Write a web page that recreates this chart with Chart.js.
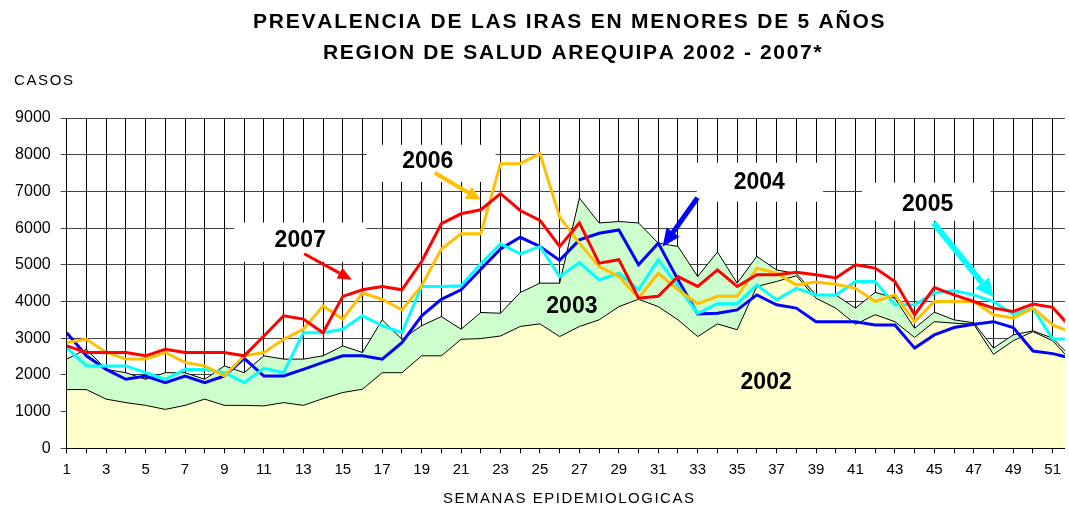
<!DOCTYPE html>
<html>
<head>
<meta charset="utf-8">
<script src="https://cdn.jsdelivr.net/npm/chart.js@4.4.1/dist/chart.umd.min.js"></script>
<style>
  html, body { margin: 0; padding: 0; background: #fff; overflow: hidden; }
  #wrap { width: 1069px; height: 508px; }
</style>
</head>
<body>
<div id="wrap"><canvas id="c" width="1069" height="508"></canvas></div>
<script>
// Epidemiological weeks
const weeks = [1,2,3,4,5,6,7,8,9,10,11,12,13,14,15,16,17,18,19,20,21,22,23,24,25,26,
               27,28,29,30,31,32,33,34,35,36,37,38,39,40,41,42,43,44,45,46,47,48,49,50,51,52];

// Weekly cases (IRA, children under 5) per year
const casos2002 = [1600,1600,1340,1245,1170,1060,1170,1340,1170,1170,
                   1155,1245,1170,1355,1520,1610,2060,2060,2520,2520,
                   2970,2990,3060,3320,3390,3045,3320,3500,3860,4060,
                   3860,3500,3045,3390,3230,4410,4545,4700,4090,3820,
                   3380,3640,3450,3020,3450,3410,3380,2560,2930,3180,
                   2930,2350];
const casos2003 = [2430,2700,2150,2060,1880,2060,2060,1880,2245,2060,
                   2520,2430,2430,2520,2790,2610,3500,2970,3340,3590,
                   3245,3700,3680,4245,4500,4500,6820,6140,6180,6140,
                   5590,5500,4680,5350,4500,5230,4860,4760,4180,4180,
                   3820,4250,4090,3270,3710,3500,3420,2730,3090,3200,
                   3000,2450];
const casos2004 = [3150,2520,2150,1880,1970,1790,1970,1790,1970,2450,
                   1970,1970,2150,2340,2520,2520,2430,2880,3610,4060,
                   4320,4880,5430,5750,5500,5120,5680,5860,5950,5000,
                   5590,4590,3660,3680,3770,4180,3910,3820,3450,3450,
                   3450,3360,3360,2730,3090,3290,3380,3450,3290,2650,
                   2580,2450];
const casos2005 = [2745,2245,2245,2245,2060,1880,2150,2150,2060,1790,
                   2180,2060,3150,3150,3245,3610,3340,3150,4410,4410,
                   4430,5030,5570,5300,5500,4680,5060,4590,4770,4320,
                   5140,4410,3680,3940,3940,4450,4045,4360,4180,4180,
                   4545,4545,3910,3910,4230,4290,4180,4000,3650,3820,
                   2980,2980];
const casos2006 = [2880,2970,2610,2430,2430,2610,2340,2245,1970,2520,
                   2610,2970,3245,3880,3520,4230,4060,3770,4430,5430,
                   5845,5845,7755,7755,8030,6300,5590,4950,4680,4090,
                   4770,4320,3940,4140,4140,4910,4770,4450,4530,4470,
                   4360,4000,4180,3450,4000,4000,4000,3640,3550,3820,
                   3360,3150];
const casos2007 = [2790,2610,2610,2610,2520,2700,2610,2610,2610,2520,
                   3060,3610,3520,3150,4140,4320,4410,4320,5090,6120,
                   6390,6500,6940,6480,6210,5500,6140,5045,5140,4090,
                   4140,4680,4410,4860,4410,4730,4730,4800,4730,4640,
                   5000,4910,4545,3640,4380,4180,4000,3820,3730,3930,
                   3840,3250];

const FONT = "'Liberation Sans', Arial, sans-serif";

const pts = (vals) => weeks.map((w, i) => ({ x: w, y: vals[i] }));

// Year callouts: white label box, text position and arrow (week, cases)
const callouts = [
  { text: '2007', color: '#FF0000', width: 3, head: [14, 6],
    box: [9.5, 6150, 16.2, 5080], at: [12.84, 5657], from: [13.04, 5300], to: [15.46, 4590] },
  { text: '2006', color: '#FFC000', width: 4, head: [14, 7],
    box: [16.2, 8270, 22.75, 7260], at: [19.31, 7807], from: [19.66, 7508], to: [21.98, 6771] },
  { text: '2004', color: '#0000FF', width: 5, head: [18, 8],
    box: [32.95, 7780, 39.36, 6716], at: [36.12, 7235], from: [32.99, 6825], to: [31.22, 5489] },
  { text: '2005', color: '#00FFFF', width: 6, head: [18, 9],
    box: [41.33, 7235, 47.85, 6199], at: [44.66, 6635], from: [44.96, 6144], to: [48.0, 4126] }
];
const areaLabels = [
  { text: '2003', at: [26.62, 3860] },
  { text: '2002', at: [36.47, 1780] }
];

// Draws text stretched to a given width by spacing out its characters
function spacedText(ctx, text, left, baseline, width, font) {
  ctx.save();
  ctx.font = font;
  ctx.fillStyle = '#000';
  ctx.textAlign = 'left';
  ctx.textBaseline = 'alphabetic';
  const chars = Array.from(text);
  const natural = ctx.measureText(text).width;
  const extra = chars.length > 1 ? (width - natural) / (chars.length - 1) : 0;
  let x = left;
  for (const ch of chars) {
    ctx.fillText(ch, x, baseline);
    x += ctx.measureText(ch).width + extra;
  }
  ctx.restore();
}

function arrow(ctx, x1, y1, x2, y2, color, width, head) {
  const ang = Math.atan2(y2 - y1, x2 - x1);
  const [len, half] = head;
  const bx = x2 - Math.cos(ang) * len, by = y2 - Math.sin(ang) * len;
  ctx.save();
  ctx.strokeStyle = color;
  ctx.fillStyle = color;
  ctx.lineWidth = width;
  ctx.lineCap = 'butt';
  ctx.beginPath();
  ctx.moveTo(x1, y1);
  ctx.lineTo(bx, by);
  ctx.stroke();
  ctx.beginPath();
  ctx.moveTo(x2, y2);
  ctx.lineTo(bx + Math.sin(ang) * half, by - Math.cos(ang) * half);
  ctx.lineTo(bx - Math.sin(ang) * half, by + Math.cos(ang) * half);
  ctx.closePath();
  ctx.fill();
  ctx.restore();
}

const calloutPlugin = {
  id: 'callouts',
  beforeDatasetsDraw(chart) {
    const { ctx, scales: { x, y } } = chart;
    ctx.save();
    ctx.fillStyle = '#fff';
    for (const c of callouts) {
      const l = x.getPixelForValue(c.box[0]), t = y.getPixelForValue(c.box[1]);
      const r = x.getPixelForValue(c.box[2]), b = y.getPixelForValue(c.box[3]);
      ctx.fillRect(l, t, r - l, b - t);
    }
    ctx.restore();
  },
  afterDatasetsDraw(chart) {
    const { ctx, scales: { x, y } } = chart;
    ctx.save();
    ctx.font = 'bold 23px ' + FONT;
    ctx.fillStyle = '#000';
    ctx.textAlign = 'center';
    ctx.textBaseline = 'middle';
    for (const a of areaLabels) {
      ctx.fillText(a.text, x.getPixelForValue(a.at[0]), y.getPixelForValue(a.at[1]));
    }
    for (const c of callouts) {
      ctx.fillText(c.text, x.getPixelForValue(c.at[0]), y.getPixelForValue(c.at[1]));
      arrow(ctx, x.getPixelForValue(c.from[0]), y.getPixelForValue(c.from[1]),
                 x.getPixelForValue(c.to[0]), y.getPixelForValue(c.to[1]),
                 c.color, c.width, c.head);
    }
    ctx.restore();
  },
  afterDraw(chart) {
    const ctx = chart.ctx;
    spacedText(ctx, 'PREVALENCIA DE LAS IRAS EN MENORES DE 5 AÑOS', 253, 27.5, 630, 'bold 21px ' + FONT);
    spacedText(ctx, 'REGION DE SALUD AREQUIPA 2002 - 2007*', 323, 58.5, 497, 'bold 21px ' + FONT);
    spacedText(ctx, 'CASOS', 14, 84.5, 59, '15px ' + FONT);
    spacedText(ctx, 'SEMANAS EPIDEMIOLOGICAS', 443, 503, 251, '15px ' + FONT);
  }
};

const lineSet = (label, vals, color, order) => ({
  label, data: pts(vals), borderColor: color, backgroundColor: color,
  borderWidth: 3, fill: false, pointRadius: 0, order
});

new Chart(document.getElementById('c'), {
  type: 'line',
  data: {
    datasets: [
      { label: '2003', data: pts(casos2003), borderColor: '#000', borderWidth: 1,
        backgroundColor: '#CCFFCC', fill: 'origin', pointRadius: 0, order: 6 },
      { label: '2002', data: pts(casos2002), borderColor: '#000', borderWidth: 1,
        backgroundColor: '#FFFFCC', fill: 'origin', pointRadius: 0, order: 5 },
      lineSet('2004', casos2004, '#0000FF', 4),
      lineSet('2005', casos2005, '#00FFFF', 3),
      lineSet('2006', casos2006, '#FFC000', 2),
      lineSet('2007', casos2007, '#FF0000', 1)
    ]
  },
  options: {
    responsive: false,
    animation: false,
    devicePixelRatio: 1,
    layout: { padding: { top: 118, left: 0, right: 0, bottom: 0 } },
    elements: { line: { tension: 0 }, point: { radius: 0 } },
    plugins: { legend: { display: false }, tooltip: { enabled: false }, title: { display: false } },
    scales: {
      x: {
        type: 'linear', min: 1, max: 51.62,
        ticks: {
          stepSize: 1, includeBounds: false, autoSkip: false, maxRotation: 0, minRotation: 0,
          color: '#000', font: { family: FONT, size: 15 }, padding: 8,
          callback: (v) => (v % 2 === 1 ? String(v) : '')
        },
        grid: { color: '#000', lineWidth: 1, tickLength: 5 },
        border: { display: true, color: '#000', width: 1 },
        afterFit: (s) => { s.height = 59.7; }
      },
      y: {
        min: 0, max: 9000,
        ticks: { stepSize: 1000, color: '#000', font: { family: FONT, size: 16 }, padding: 10,
                 callback: (v) => String(v) },
        grid: { color: '#444', lineWidth: 1, tickLength: 6 },
        border: { display: true, color: '#000', width: 1 },
        afterFit: (s) => { s.width = 66.7; }
      }
    }
  },
  plugins: [calloutPlugin]
});
</script>
</body>
</html>
